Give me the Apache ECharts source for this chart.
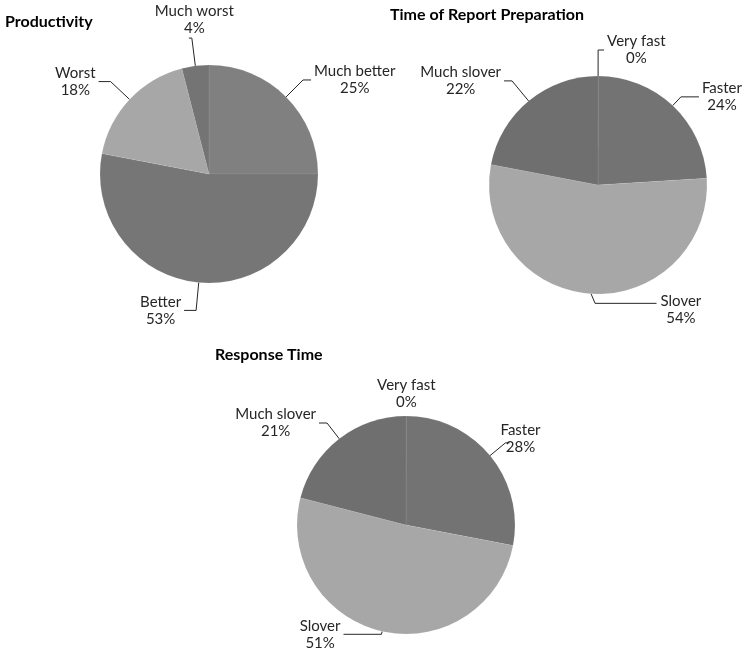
<!DOCTYPE html>
<html>
<head>
<meta charset="utf-8">
<script src="https://cdn.jsdelivr.net/npm/echarts@6/dist/echarts.min.js"></script>
<style>
  html, body { margin: 0; padding: 0; background: #fff; }
  #chart { width: 755px; height: 657px; }
</style>
</head>
<body>
<div id="chart"></div>
<script>
// Productivity
const prodNames = ["Much better", "Better", "Worst", "Much worst"];
const prodValues = [25, 53, 18, 4];
const prodColors = ["#808080", "#767676", "#a7a7a7", "#747474"];

// Time of Report Preparation
const reportNames = ["Very fast", "Faster", "Slover", "Much slover"];
const reportValues = [0, 24, 54, 22];

// Response Time
const responseNames = ["Very fast", "Faster", "Slover", "Much slover"];
const responseValues = [0, 28, 51, 21];

const speedColors = ["#737373", "#737373", "#a7a7a7", "#6f6f6f"];

// leader line lengths per slice [radial, horizontal], 0 = no line
const prodLines = [[24, 8], [28, 12], [26, 12], [28, 3]];
const reportLines = [[26, 6], [12, 18], [12, 18], [26, 8]];
const responseLines = [[22, 0], [20, 4], [3, 38], [20, 8]];

// label nudges per slice [dx, dy, redraw leader line to the other side]
const prodNudge = [null, null, null, [48, -18, false]];
const reportNudge = [null, null, [132, 4, true], null];
const responseNudge = [[-32, 0, false], [-12, -4, false], null, null];

const chart = echarts.init(document.getElementById("chart"));

const font = "Lato, 'Open Sans', sans-serif";

function makeData(names, values, colors, lines) {
  return names.map((n, i) => ({
    name: n,
    value: values[i],
    itemStyle: { color: colors[i] },
    labelLine: { show: lines[i][1] > 0, length: lines[i][0], length2: lines[i][1] }
  }));
}

function pieSeries(center, data, startAngle, nudge) {
  return {
    type: "pie",
    center: center,
    radius: 109,
    startAngle: startAngle,
    clockwise: true,
    animation: false,
    avoidLabelOverlap: false,
    itemStyle: { borderColor: "rgba(255,255,255,0.15)", borderWidth: 0.5 },
    label: {
      show: true,
      position: "outside",
      formatter: p => `{t|${p.name}}\n{t|${p.value}%}`,
      distanceToLabelLine: 3,
      rich: {
        t: {
          align: "center",
          color: "#262626",
          fontFamily: font,
          fontSize: 15,
          lineHeight: 17
        }
      }
    },
    labelLayout: p => {
      const n = nudge[p.dataIndex];
      if (!n) return {};
      const out = { dx: n[0], dy: n[1] };
      if (n[2] && p.labelLinePoints) {
        const a = p.labelLinePoints[0];
        const r = p.labelRect;
        const y = r.y + n[1] + r.height * 0.3;
        out.labelLinePoints = [
          [a[0], a[1]],
          [a[0] + 4, y],
          [r.x + n[0] - 4, y]
        ];
      }
      return out;
    },
    labelLine: {
      show: true,
      smooth: false,
      lineStyle: { color: "#262626", width: 1 }
    },
    emphasis: { disabled: true },
    data: data
  };
}

const titleStyle = { fontFamily: font, fontSize: 16, fontWeight: "bold", color: "#000" };

chart.setOption({
  backgroundColor: "#ffffff",
  title: [
    { text: "Productivity", left: 0, top: 9, textStyle: titleStyle },
    { text: "Time of Report Preparation", left: 385, top: 2, textStyle: titleStyle },
    { text: "Response Time", left: 210, top: 342, textStyle: titleStyle }
  ],
  series: [
    pieSeries([209, 174], makeData(prodNames, prodValues, prodColors, prodLines), 90, prodNudge),
    pieSeries([598, 185], makeData(reportNames, reportValues, speedColors, reportLines), 89.95, reportNudge),
    pieSeries([406, 525], makeData(responseNames, responseValues, speedColors, responseLines), 89.95, responseNudge)
  ]
});
</script>
</body>
</html>
